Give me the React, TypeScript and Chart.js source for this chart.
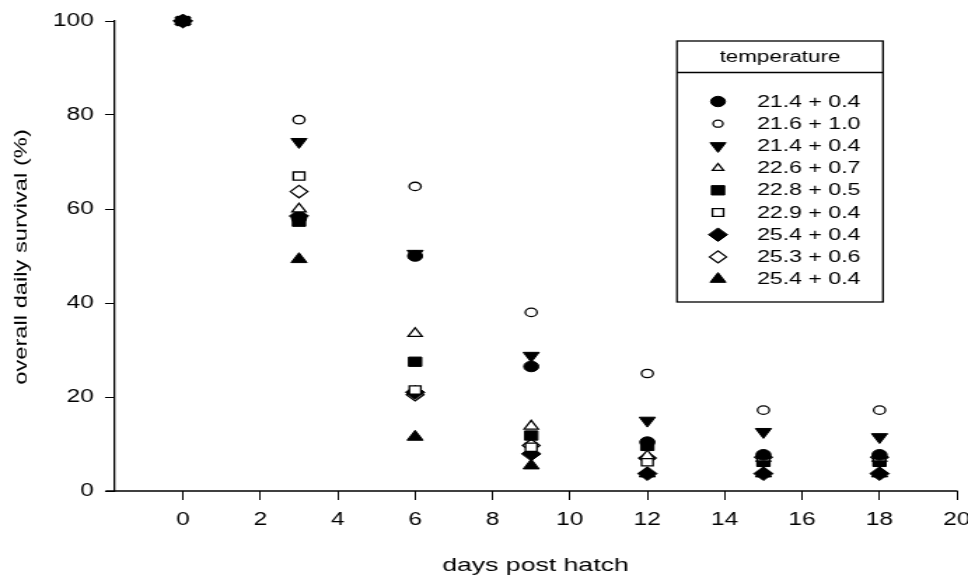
import React, { useEffect, useRef } from 'react';
import { Chart, registerables } from 'chart.js';

Chart.register(...registerables);

// ---------- data ----------
const days = [0, 3, 6, 9, 12, 15, 18];
const xTicks = [0, 2, 4, 6, 8, 10, 12, 14, 16, 18, 20];
const yTicks = [0, 20, 40, 60, 80, 100];
const legendTitle = 'temperature';
const xTitle = 'days post hatch';
const yTitle = 'overall daily survival (%)';

const seriesLabels = [
  '21.4 + 0.4',
  '21.6 + 1.0',
  '21.4 + 0.4',
  '22.6 + 0.7',
  '22.8 + 0.5',
  '22.9 + 0.4',
  '25.4 + 0.4',
  '25.3 + 0.6',
  '25.4 + 0.4',
];

const sFilledCircle = [100, 58, 50, 26.5, 10.4, 7.7, 7.7];
const sOpenCircle = [100, 79, 64.8, 38, 25, 17.2, 17.2];
const sFilledDown = [100, 74.3, 50.5, 28.8, 15, 12.6, 11.5];
const sOpenTriangle = [100, 60, 33.5, 13.8, 7.5, 7, 7];
const sFilledSquare = [100, 57.3, 27.5, 11.8, 9.6, 6.2, 6.2];
const sOpenSquare = [100, 67, 21.5, 9.3, 6.2, 6.2, 6.2];
const sFilledDiamond = [100, 58.5, 21, 7.9, 3.7, 3.7, 3.7];
const sOpenDiamond = [100, 63.7, 20.5, 9.7, 7, 7.2, 7.2];
const sFilledTriangle = [100, 49.3, 11.5, 5.4, 3.7, 3.7, 3.7];

const seriesValues = [
  sFilledCircle,
  sOpenCircle,
  sFilledDown,
  sOpenTriangle,
  sFilledSquare,
  sOpenSquare,
  sFilledDiamond,
  sOpenDiamond,
  sFilledTriangle,
];

// ---------- styles ----------
type MStyle = { style: string; rot: number; r: number; lr: number; filled: boolean };
const markerStyles: MStyle[] = [
  { style: 'circle', rot: 0, r: 5.3, lr: 5.2, filled: true },
  { style: 'circle', rot: 0, r: 4.2, lr: 3.5, filled: false },
  { style: 'triangle', rot: 180, r: 6.6, lr: 6.5, filled: true },
  { style: 'triangle', rot: 0, r: 5.8, lr: 4.6, filled: false },
  { style: 'rect', rot: 0, r: 6.6, lr: 6.6, filled: true },
  { style: 'rect', rot: 0, r: 5.8, lr: 5.6, filled: false },
  { style: 'rectRot', rot: 0, r: 6.9, lr: 6.8, filled: true },
  { style: 'rectRot', rot: 0, r: 6.2, lr: 6.0, filled: false },
  { style: 'triangle', rot: 0, r: 6.6, lr: 6.5, filled: true },
];

const STRETCH = 1.4;
const CSS_W = 968;
const CSS_H = 575;
const W = Math.round(CSS_W / STRETCH);
const S = CSS_W / W;
const FONT = "'Liberation Sans', Arial, Helvetica, sans-serif";
const X_MIN = -1.78;
const X_LINE_START = -2;
const X_MAX = 20;

function drawMarker(
  ctx: CanvasRenderingContext2D,
  m: MStyle,
  x: number,
  y: number,
  r: number
) {
  ctx.beginPath();
  if (m.style === 'circle') {
    ctx.arc(x, y, r, 0, Math.PI * 2);
  } else if (m.style === 'triangle') {
    let a = (m.rot * Math.PI) / 180;
    ctx.moveTo(x + Math.sin(a) * r, y - Math.cos(a) * r);
    a += (2 * Math.PI) / 3;
    ctx.lineTo(x + Math.sin(a) * r, y - Math.cos(a) * r);
    a += (2 * Math.PI) / 3;
    ctx.lineTo(x + Math.sin(a) * r, y - Math.cos(a) * r);
  } else if (m.style === 'rect') {
    const h = Math.SQRT1_2 * r;
    ctx.rect(x - h, y - h, 2 * h, 2 * h);
  } else {
    ctx.moveTo(x - r, y);
    ctx.lineTo(x, y - r);
    ctx.lineTo(x + r, y);
    ctx.lineTo(x, y + r);
  }
  ctx.closePath();
  ctx.fillStyle = m.filled ? '#000' : '#fff';
  ctx.fill();
  ctx.lineWidth = m.filled ? 1 : 1.3;
  ctx.strokeStyle = '#000';
  ctx.stroke();
}

const decorPlugin = {
  id: 'decor',
  beforeDatasetsDraw(chart: any) {
    const { ctx, scales } = chart;
    const xs = scales.x;
    const ys = scales.y;
    const yy = ys.getPixelForValue(0);
    ctx.save();
    ctx.strokeStyle = '#000';
    ctx.lineWidth = 1.3;
    ctx.beginPath();
    ctx.moveTo(xs.getPixelForValue(X_LINE_START), yy);
    ctx.lineTo(xs.getPixelForValue(X_MAX) + 0.5, yy);
    ctx.stroke();
    ctx.restore();

    // y-axis title (wide lettering like the original)
    const ya = chart.chartArea;
    ctx.save();
    ctx.translate(22 / S, (ya.top + ya.bottom) / 2 + 1);
    ctx.rotate(-Math.PI / 2);
    ctx.scale(1.96, 1);
    ctx.fillStyle = '#000';
    ctx.font = `12.1px ${FONT}`;
    ctx.textAlign = 'center';
    ctx.textBaseline = 'middle';
    ctx.fillText(yTitle, 0, 0);
    ctx.restore();
  },
  afterDraw(chart: any) {
    const ctx: CanvasRenderingContext2D = chart.ctx;
    const left = 677 / S;
    const right = 883 / S;
    const top = 41;
    const sep = 72.5;
    const bottom = 302;
    const firstRow = 101.5;
    const rowGap = 22.2;
    const markerX = 718 / S;
    const textX = 757 / S;
    ctx.save();
    ctx.fillStyle = '#fff';
    ctx.fillRect(left, top, right - left, bottom - top);
    ctx.strokeStyle = '#000';
    ctx.lineWidth = 1.3;
    ctx.strokeRect(left, top, right - left, bottom - top);
    ctx.beginPath();
    ctx.moveTo(left, sep);
    ctx.lineTo(right, sep);
    ctx.stroke();
    ctx.fillStyle = '#000';
    ctx.font = `16px ${FONT}`;
    ctx.textAlign = 'center';
    ctx.textBaseline = 'middle';
    ctx.fillText(legendTitle, (left + right) / 2, (top + sep) / 2 + 0.5);
    ctx.textAlign = 'left';
    ctx.font = `16.5px ${FONT}`;
    seriesLabels.forEach((lab, i) => {
      const y = firstRow + i * rowGap;
      const m = markerStyles[i];
      drawMarker(ctx, m, markerX, y, m.lr);
      ctx.fillStyle = '#000';
      ctx.fillText(lab, textX, y + 0.5);
    });
    ctx.restore();
  },
};

export default function App() {
  const ref = useRef<HTMLCanvasElement>(null);
  useEffect(() => {
    const canvas = ref.current;
    if (!canvas) return;
    const datasets = seriesValues.map((vals, i) => {
      const m = markerStyles[i];
      return {
        label: seriesLabels[i],
        data: days.map((d, j) => ({ x: d, y: vals[j] })),
        pointStyle: m.style,
        pointRotation: m.rot,
        pointRadius: m.r,
        pointHoverRadius: m.r,
        backgroundColor: m.filled ? '#000' : '#fff',
        borderColor: '#000',
        pointBorderWidth: m.filled ? 1 : 1.3,
        borderWidth: m.filled ? 1 : 1.3,
        showLine: false,
        clip: false,
      };
    });
    const chart = new Chart(canvas, {
      type: 'scatter',
      data: { datasets },
      plugins: [decorPlugin],
      options: {
        responsive: false,
        maintainAspectRatio: false,
        animation: false,
        devicePixelRatio: 1,
        events: [],
        layout: { padding: { top: 21, right: W - 957 / S, left: 0, bottom: 0 } },
        plugins: {
          legend: { display: false },
          tooltip: { enabled: false },
          title: { display: false },
        },
        scales: {
          x: {
            type: 'linear',
            min: X_MIN,
            max: X_MAX,
            afterBuildTicks: (scale: any) => {
              scale.ticks = xTicks.map((v) => ({ value: v }));
            },
            afterFit: (scale: any) => {
              scale.height = CSS_H - 491;
              scale.paddingLeft = 0;
              scale.paddingRight = 0;
            },
            grid: {
              display: true,
              drawOnChartArea: false,
              drawTicks: true,
              tickLength: 9,
              color: '#000',
              lineWidth: 1,
            },
            border: { display: false },
            ticks: {
              color: '#000',
              font: { family: FONT, size: 17.5 },
              padding: 10,
              maxRotation: 0,
              autoSkip: false,
            },
            title: {
              display: true,
              text: xTitle,
              color: '#000',
              font: { family: FONT, size: 19 },
              padding: { top: 0, bottom: -2 },
            },
          },
          y: {
            type: 'linear',
            min: 0,
            max: 100,
            afterBuildTicks: (scale: any) => {
              scale.ticks = yTicks.map((v) => ({ value: v }));
            },
            afterFit: (scale: any) => {
              scale.width = 114 / S;
              scale.paddingTop = 0;
              scale.paddingBottom = 0;
            },
            grid: {
              display: true,
              drawOnChartArea: false,
              drawTicks: true,
              tickLength: 9 / S,
              color: '#000',
              lineWidth: 1,
            },
            border: { display: true, color: '#000', width: 1.3 },
            ticks: {
              color: '#000',
              font: { family: FONT, size: 17.5 },
              padding: 8,
            },
            title: { display: false },
          },
        },
      } as any,
    });
    return () => chart.destroy();
  }, []);
  return (
    <div
      style={{
        position: 'fixed',
        left: 0,
        top: 0,
        width: CSS_W,
        height: CSS_H,
        background: '#fff',
        overflow: 'hidden',
      }}
    >
      <canvas
        ref={ref}
        width={W}
        height={CSS_H}
        style={{ width: `${CSS_W}px`, height: `${CSS_H}px`, display: 'block' }}
        aria-label={`${yTitle} vs ${xTitle}`}
      />
    </div>
  );
}
